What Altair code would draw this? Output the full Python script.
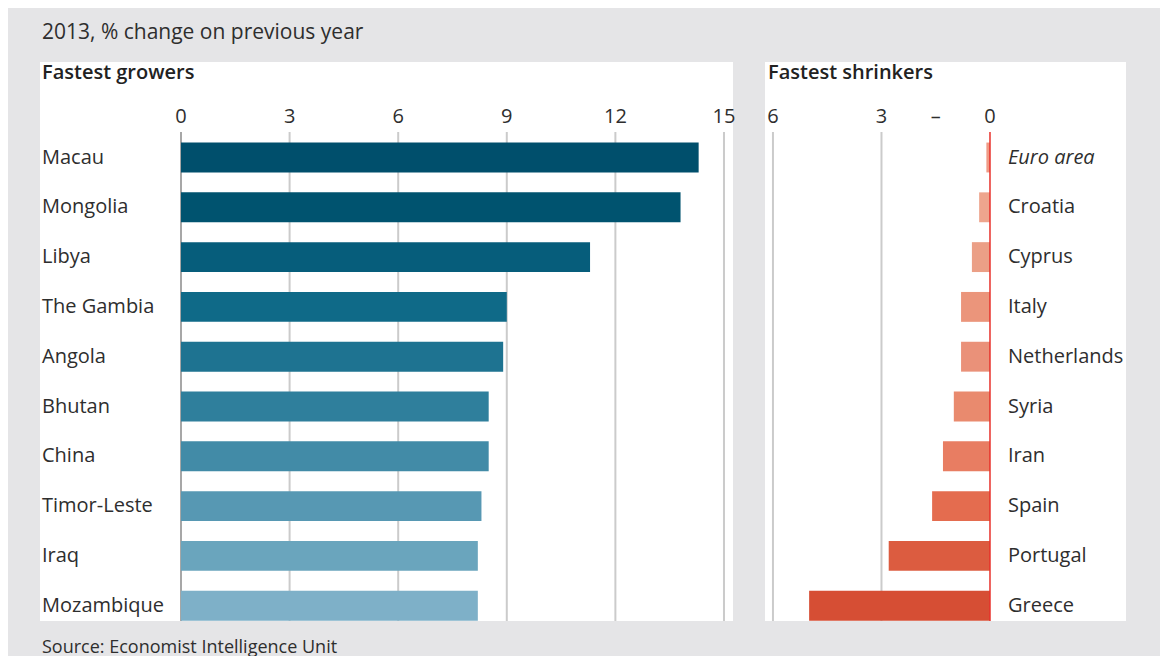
import altair as alt
import pandas as pd

# ---------------- data ----------------
grow_names = ["Macau", "Mongolia", "Libya", "The Gambia", "Angola", "Bhutan",
              "China", "Timor-Leste", "Iraq", "Mozambique"]
grow_values = [14.3, 13.8, 11.3, 9.0, 8.9, 8.5, 8.5, 8.3, 8.2, 8.2]
grow_colors = ["#004f6c", "#00536f", "#065d7b", "#0f6a88", "#1e7391", "#2f7f9c",
               "#428ba7", "#5798b3", "#6aa5bd", "#7eb0c8"]

shrink_names = ["Euro area", "Croatia", "Cyprus", "Italy", "Netherlands", "Syria",
                "Iran", "Spain", "Portugal", "Greece"]
shrink_values = [-0.1, -0.3, -0.5, -0.8, -0.8, -1.0, -1.3, -1.6, -2.8, -5.0]
shrink_colors = ["#f09a85", "#eea58d", "#eb9f86", "#eb957b", "#ea9179", "#e98a6e",
                 "#e87d62", "#e46c4f", "#dc5c40", "#d64e34"]

grow_ticks = [0, 3, 6, 9, 12, 15]
grow_tick_labels = ["0", "3", "6", "9", "12", "15"]
shrink_ticks = [-6, -3, -1.5, 0]
shrink_tick_labels = ["6", "3", "–", "0"]

title_text = "GDP forecasts"
subtitle_text = "2013, % change on previous year"
left_title = "Fastest growers"
right_title = "Fastest shrinkers"
source_text = "Source: Economist Intelligence Unit"

# ---------------- style ----------------
FONT = "Open Sans"
TXT = "#2e2e2e"
GRID = "#cbcbcb"
LW, RW, H = 693, 361, 559
ROW_RANGE = [70.6, 568.6]
GRID_TOP = 70
FS = 20

gdf = pd.DataFrame({"country": grow_names, "value": grow_values, "zero": 0})
sdf = pd.DataFrame({"country": shrink_names, "value": shrink_values, "zero": 0})
gt = pd.DataFrame({"tick": grow_ticks, "label": grow_tick_labels})
st = pd.DataFrame({"tick": shrink_ticks, "label": shrink_tick_labels})

xg = alt.Scale(domain=[-3.895, 15.249], nice=False, zero=False)
xs = alt.Scale(domain=[-6.22, 3.76], nice=False, zero=False)


def yenc(names):
    return alt.Y("country:N", sort=names, axis=None,
                 scale=alt.Scale(range=ROW_RANGE, paddingInner=0.4, paddingOuter=0.2))


def label_chart(text, x):
    return alt.Chart(pd.DataFrame({"t": [text]})).mark_text(
        font=FONT, fontSize=FS, fontWeight=600, color="#222222",
        align="left", baseline="middle"
    ).encode(text="t:N", x=alt.value(x), y=alt.value(11))


# ---------------- left panel ----------------
g_grid = alt.Chart(gt).transform_filter("datum.tick != 0").mark_rule(
    color=GRID, strokeWidth=2
).encode(x=alt.X("tick:Q", scale=xg, axis=None), y=alt.value(GRID_TOP), y2=alt.value(H))

g_zero = alt.Chart(gt).transform_filter("datum.tick == 0").mark_rule(
    color="#8a8a8a", strokeWidth=1.5
).encode(x=alt.X("tick:Q", scale=xg, axis=None), y=alt.value(GRID_TOP), y2=alt.value(H))

g_bars = alt.Chart(gdf).mark_bar().encode(
    x=alt.X("value:Q", scale=xg, axis=None),
    x2="zero:Q",
    y=yenc(grow_names),
    color=alt.Color("country:N", scale=alt.Scale(domain=grow_names, range=grow_colors), legend=None),
)

g_ticklab = alt.Chart(gt).mark_text(
    font=FONT, fontSize=FS, color=TXT, align="center", baseline="middle"
).encode(x=alt.X("tick:Q", scale=xg, axis=None), y=alt.value(55), text="label:N")

g_names = alt.Chart(gdf).mark_text(
    font=FONT, fontSize=FS, color=TXT, align="left", baseline="middle"
).encode(x=alt.value(2), y=yenc(grow_names), text="country:N")

g_source = alt.Chart(pd.DataFrame({"t": [source_text]})).mark_text(
    font=FONT, fontSize=18, color=TXT, align="left", baseline="middle"
).encode(text="t:N", x=alt.value(2), y=alt.value(586))

left = alt.layer(g_grid, g_zero, g_bars, g_ticklab, g_names,
                 label_chart(left_title, 2), g_source).properties(width=LW, height=H)

# ---------------- right panel ----------------
s_grid = alt.Chart(st).transform_filter("datum.tick == -6 || datum.tick == -3").mark_rule(
    color=GRID, strokeWidth=2
).encode(x=alt.X("tick:Q", scale=xs, axis=None), y=alt.value(GRID_TOP), y2=alt.value(H))

s_bars = alt.Chart(sdf).mark_bar().encode(
    x=alt.X("value:Q", scale=xs, axis=None),
    x2="zero:Q",
    y=yenc(shrink_names),
    color=alt.Color("country:N", scale=alt.Scale(domain=shrink_names, range=shrink_colors), legend=None),
)

s_zero = alt.Chart(st).transform_filter("datum.tick == 0").mark_rule(
    color="#e8302a", strokeWidth=1.5
).encode(x=alt.X("tick:Q", scale=xs, axis=None), y=alt.value(GRID_TOP), y2=alt.value(H))

s_ticklab = alt.Chart(st).mark_text(
    font=FONT, fontSize=FS, color=TXT, align="center", baseline="middle"
).encode(x=alt.X("tick:Q", scale=xs, axis=None), y=alt.value(55), text="label:N")

s_names = alt.Chart(sdf).transform_filter("datum.country != 'Euro area'").mark_text(
    font=FONT, fontSize=FS, color=TXT, align="left", baseline="middle", dx=18
).encode(x=alt.X("zero:Q", scale=xs, axis=None), y=yenc(shrink_names), text="country:N")

s_names_it = alt.Chart(sdf).transform_filter("datum.country == 'Euro area'").mark_text(
    font=FONT, fontSize=FS, color=TXT, align="left", baseline="middle", dx=18, fontStyle="italic"
).encode(x=alt.X("zero:Q", scale=xs, axis=None), y=yenc(shrink_names), text="country:N")

right = alt.layer(s_grid, s_bars, s_zero, s_ticklab, s_names, s_names_it,
                  label_chart(right_title, 3)).properties(width=RW, height=H)

# ---------------- compose ----------------
chart = alt.hconcat(left, right, spacing=32, bounds="flush").resolve_scale(
    x="independent", y="independent", color="independent"
).properties(
    title=alt.TitleParams(
        text=title_text, subtitle=subtitle_text, anchor="start", frame="group",
        font=FONT, fontSize=24, fontWeight="bold", color="#1a1a1a",
        subtitleFont=FONT, subtitleFontSize=21, subtitleColor=TXT,
        subtitlePadding=9, offset=19, dx=2,
    ),
    background="#e5e5e7",
    padding={"left": 32, "top": 54, "right": 1120, "bottom": 586},
    autosize=alt.AutoSizeParams(type="none"),
).configure_view(fill="white", stroke=None)

chart.save("out.html", embed_options={"renderer": "svg", "actions": False})
